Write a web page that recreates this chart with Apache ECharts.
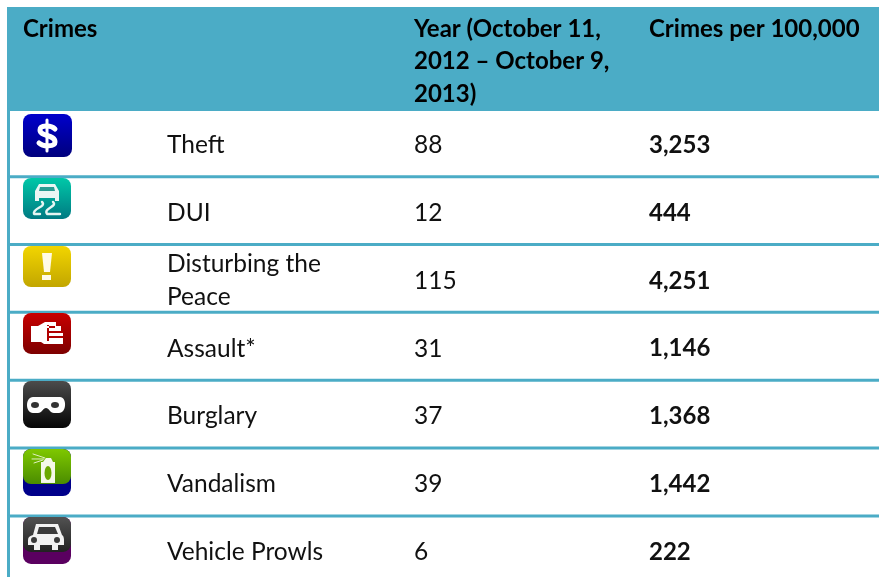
<!DOCTYPE html>
<html>
<head>
<meta charset="utf-8">
<title>Crimes</title>
<style>
    html, body { height: 100%; margin: 0; padding: 0; background: #fff; }
    #main { width: 879px; height: 577px; }
</style>
</head>
<body>
<div id="main"></div>
<script src="https://cdn.jsdelivr.net/npm/echarts@6/dist/echarts.min.js"></script>
<script>
// table content
var headers = ['Crimes', 'Year (October 11,\n2012 \u2013 October 9,\n2013)', 'Crimes per 100,000'];
var crimes = ['Theft', 'DUI', 'Disturbing the\nPeace', 'Assault*', 'Burglary', 'Vandalism', 'Vehicle Prowls'];
var yearCounts = [88, 12, 115, 31, 37, 39, 6];
var ratePer100k = [3253, 444, 4251, 1146, 1368, 1442, 222];

var TEAL = '#4bacc6';
var FONT = 'Lato, "Open Sans", sans-serif';
var colX = {icon: 23, crime: 167, year: 414, rate: 649, head: 23};

function pathEl(d, fill, stroke, lw) {
    return {
        type: 'path',
        shape: {pathData: d},
        style: {fill: fill || 'none', stroke: stroke || 'none', lineWidth: lw || 0, lineCap: 'round', lineJoin: 'round'}
    };
}

// icon artwork, local coordinates inside the 48px badge
var icons = [
    {top: 5.2, h: 43, w: 49, c: ['#0000cc', '#00007d'], glyphs: [
        pathEl('M24 6V37', null, '#fff', 3),
        pathEl('M32 15C28 11 17 11 17 16C17 23 32 20 32 28C32 33 20 33 16 29', null, '#fff', 5)
    ]},
    {top: 1.3, h: 41, w: 48, c: ['#00c8a8', '#007a82'], glyphs: [
        pathEl('M16 6H32L36 13V23H32V20H16V23H12V13Z', '#eaf6f4'),
        pathEl('M17 9H31L32 13H16Z', '#2a9c92'),
        pathEl('M19 24C24 29 9 30 11 36L17 36', null, '#e6f5f2', 2.4),
        pathEl('M30 24C35 29 20 30 24 36L37 36', null, '#e6f5f2', 2.4)
    ]},
    {top: 1.5, h: 41, w: 48, c: ['#f2d500', '#c2a600'], glyphs: [
        pathEl('M19 7H29L27 26H21Z', '#fffbe6'),
        pathEl('M19 29H28V34H19Z', '#fffbe6')
    ]},
    {top: 0.6, h: 41, w: 48, c: ['#c80000', '#7d0000'], glyphs: [
        pathEl('M8 13H15L22 9H33V13H38V18H40V31H21L18 29H8Z', '#fff'),
        pathEl('M24 13H32V15H24ZM26 18H40V20H26ZM26 23H40V25H26ZM24 12V28H26V12Z', '#b00000')
    ]},
    {top: 0.8, h: 47, w: 48, c: ['#4c4c4c', '#050505'], glyphs: [
        pathEl('M10 16H37C44 16 44 32 36 32H31C27 32 26 27 23 27C20 27 19 32 15 32H10C2 32 2 16 10 16Z', '#fff'),
        pathEl('M8 24A4 3 0 1 0 16 24A4 3 0 1 0 8 24ZM28 24A4 3 0 1 0 36 24A4 3 0 1 0 28 24Z', '#333')
    ]},
    {top: 0.9, h: 47, w: 48, band: 35, bandColor: '#00008a', c: ['#7fc800', '#4a8c00'], glyphs: [
        pathEl('M18 13H32V34H18Z', '#f4f8ea'),
        pathEl('M21.5 24A3.5 7 0 1 0 28.5 24A3.5 7 0 1 0 21.5 24Z', '#6aa800'),
        pathEl('M20 13L23 9H28L30 13Z', '#f4f8ea'),
        pathEl('M10 5L22 9M9 10L21 10M11 14L20 11', null, '#dff0c0', 1)
    ]},
    {top: 1, h: 47, w: 48, band: 35, bandColor: '#5a0060', c: ['#525252', '#222222'], glyphs: [
        pathEl('M10 18L13 7H35L39 18C41 19 41 22 41 24V28H35V33H29V28H17V33H11V28H5V23C5 20 7 19 10 18Z', '#f2f2f2'),
        pathEl('M14 17L16 10H32L35 17Z', '#3a3a3a'),
        pathEl('M8 23A3 3 0 1 0 14 23A3 3 0 1 0 8 23ZM31 23A3 3 0 1 0 37 23A3 3 0 1 0 31 23Z', '#3a3a3a')
    ]}
];

function cellText(x, y, text, bold, fill) {
    return {
        type: 'text',
        style: {
            x: x, y: y, text: text,
            fill: fill || '#111',
            font: (bold ? 'bold 24px ' : '24.5px ') + FONT,
            lineHeight: 32.5,
            verticalAlign: 'middle',
            align: 'left'
        }
    };
}

function renderIcon(ic, y) {
    var children = [];
    if (ic.band) {
        children.push({type: 'rect', shape: {x: 0, y: 0, width: ic.w, height: ic.h, r: 8}, style: {fill: ic.bandColor}});
    }
    children.push({
        type: 'rect',
        shape: {x: 0, y: 0, width: ic.w, height: ic.band || ic.h, r: 8},
        style: {fill: new echarts.graphic.LinearGradient(0, 0, 0, 1, [
            {offset: 0, color: ic.c[0]}, {offset: 1, color: ic.c[1]}
        ])}
    });
    return {type: 'group', x: colX.icon, y: y, children: children.concat(ic.glyphs)};
}

function renderHeader(params, api) {
    var tl = api.coord([0, api.value(0)]);
    var br = api.coord([api.getWidth(), api.value(1)]);
    return {
        type: 'group',
        children: [
            {type: 'rect', shape: {x: 7, y: tl[1], width: br[0] - 7, height: br[1] - tl[1] + 2.2}, style: {fill: TEAL}},
            cellText(colX.head, 29, headers[0], true, '#000'),
            cellText(colX.year, 61.5, headers[1], true, '#000'),
            cellText(colX.rate, 29, headers[2], true, '#000')
        ]
    };
}

function renderRow(params, api) {
    var i = params.dataIndex;
    var top = api.coord([0, i]);
    var bottom = api.coord([0, i + 1 > 6.9 ? 6.9 : i + 1]);
    var mid = api.coord([0, i + 0.535])[1];
    var children = [
        {type: 'rect', shape: {x: 7, y: top[1], width: 3, height: bottom[1] - top[1] + 1}, style: {fill: TEAL}}
    ];
    if (i < crimes.length - 1) {
        children.push({type: 'rect', shape: {x: 7, y: bottom[1] - 1.5, width: api.getWidth() - 7, height: 3}, style: {fill: TEAL}});
    }
    children.push(renderIcon(icons[i], top[1] + icons[i].top));
    children.push(cellText(colX.crime, mid, crimes[i]));
    children.push(cellText(colX.year, mid, String(api.value(1))));
    children.push(cellText(colX.rate, mid, echarts.format.addCommas(api.value(2)), true));
    return {type: 'group', children: children};
}

var myChart = echarts.init(document.getElementById('main'));
myChart.setOption({
    animation: false,
    backgroundColor: '#fff',
    grid: {left: 0, right: 0, top: 7, bottom: 0},
    xAxis: {type: 'value', min: 0, max: 879, show: false},
    yAxis: {type: 'value', min: -1.5, max: 6.9, inverse: true, show: false},
    series: [
        {
            type: 'custom',
            silent: true,
            clip: false,
            renderItem: renderHeader,
            data: [[-1.5, 0]]
        },
        {
            type: 'custom',
            silent: true,
            clip: false,
            renderItem: renderRow,
            encode: {y: 0},
            data: crimes.map(function (c, i) {
                return [i, yearCounts[i], ratePer100k[i]];
            })
        }
    ]
});
</script>
</body>
</html>
